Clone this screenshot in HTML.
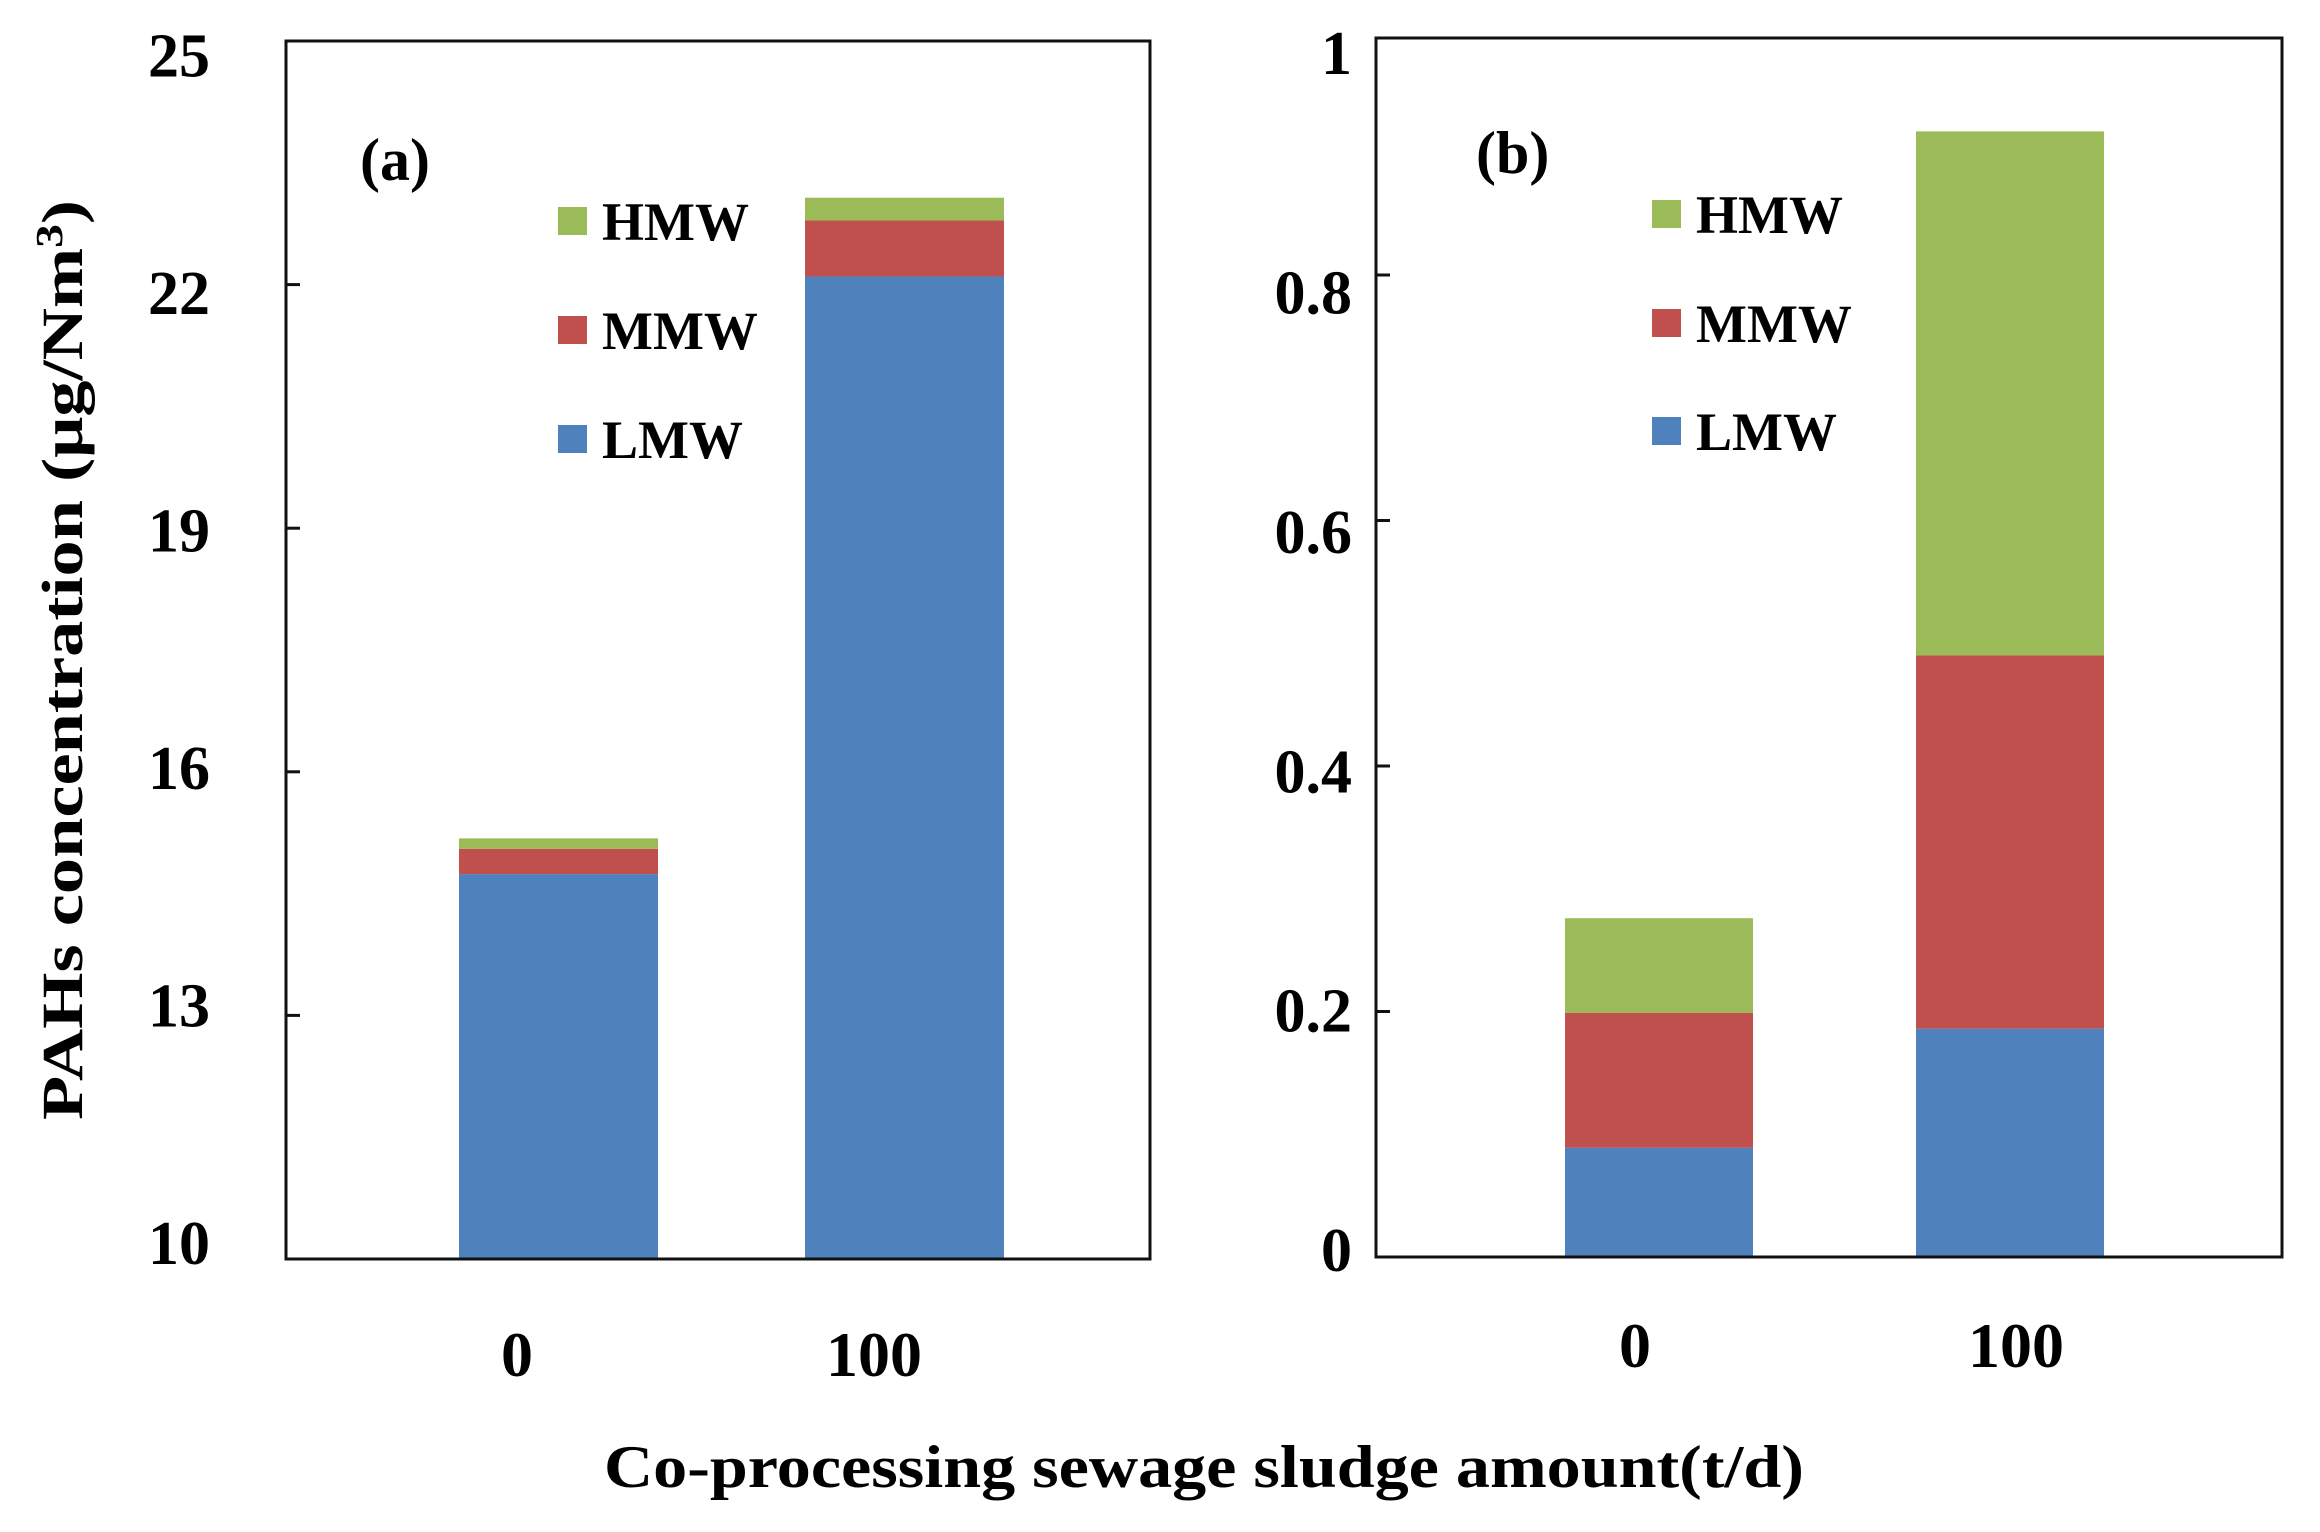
<!DOCTYPE html>
<html><head><meta charset="utf-8">
<style>
html,body{margin:0;padding:0;background:#fff;}
svg{display:block;}
text{font-family:"Liberation Serif",serif;font-weight:bold;fill:#000;}
</style></head>
<body>
<svg id="fig" width="2320" height="1532" viewBox="0 0 2320 1532"></svg>
<script>
// ---- data ----
const categories = ["0", "100"];
const seriesNames = ["LMW", "MMW", "HMW"];
const seriesColors = ["#4F81BD", "#C0504D", "#9BBB59"];
// panel (a)
const aLMW = [14.74, 22.1];
const aMMW = [0.31, 0.69];
const aHMW = [0.13, 0.28];
const aTicks = [10, 13, 16, 19, 22, 25];
const aTickLabels = ["10", "13", "16", "19", "22", "25"];
// panel (b)
const bLMW = [0.089, 0.186];
const bMMW = [0.11, 0.304];
const bHMW = [0.077, 0.427];
const bTicks = [0, 0.2, 0.4, 0.6, 0.8, 1];
const bTickLabels = ["0", "0.2", "0.4", "0.6", "0.8", "1"];

const NS = "http://www.w3.org/2000/svg";
const svg = document.getElementById("fig");
function mk(tag, attrs, parent) {
  const e = document.createElementNS(NS, tag);
  for (const k in attrs) e.setAttribute(k, attrs[k]);
  (parent || svg).appendChild(e);
  return e;
}

function panel(cfg) {
  const g = mk("g", {});
  
  
  const yScale = v => cfg.y0 - (Math.max(v, cfg.vmin) - cfg.vmin) * cfg.pxPerUnit;
  const series = [cfg.lmw, cfg.mmw, cfg.hmw];
  categories.forEach((c, i) => {
    let base = 0;
    series.forEach((s, j) => {
      const top = base + s[i];
      const yTop = yScale(top), yBot = yScale(base);
      const r = mk("rect", {x: cfg.barX[i], y: yTop, width: cfg.barW, height: Math.max(0, yBot - yTop), fill: seriesColors[j]}, g);
      
      
      base = top;
    });
  });
  const f = mk("rect", {x: cfg.left, y: cfg.top, width: cfg.right - cfg.left, height: cfg.y0 - cfg.top, fill: "none", stroke: "#111", "stroke-width": 3}, g);
  
  
  cfg.ticks.forEach((t, i) => {
    const y = yScale(t);
    if (y >= cfg.top) {
      const tl = mk("line", {x1: cfg.left, x2: cfg.left + 14, y1: y, y2: y, stroke: "#111", "stroke-width": 3}, g);
      
      
    }
    const cy = cfg.labBottom + (y - cfg.y0) * 0.975;
    const lb = mk("text", {x: cfg.labelRight, y: cy + 22, "text-anchor": "end", "font-size": 62}, g);
    lb.textContent = cfg.tickLabels[i];
    
    
  });
  categories.forEach((c, i) => {
    const t = mk("text", {x: cfg.xLabX[i], y: cfg.xLabelY, "text-anchor": "middle", "font-size": 64}, g);
    t.textContent = c;
    
    
  });
  const pl = mk("text", {x: cfg.plX, y: cfg.plY, "font-size": 60}, g);
  pl.textContent = cfg.plText;
  
  
  const order = [2, 1, 0];
  order.forEach((j, k) => {
    const cy = cfg.legY[k];
    const lg = mk("g", {}, g);
    
    
    mk("rect", {x: cfg.legX, y: cy - 14, width: 29, height: 28, fill: seriesColors[j]}, lg);
    const tx = mk("text", {x: cfg.legX + 44, y: cy + 19, "font-size": 54}, lg);
    tx.textContent = seriesNames[j];
  });
}

panel({name: "panel-a", left: 286, right: 1150, top: 41, y0: 1259, vmin: 10, pxPerUnit: (1259 - 41) / 15,
  lmw: aLMW, mmw: aMMW, hmw: aHMW, ticks: aTicks, tickLabels: aTickLabels,
  barX: [459, 805], barW: 199, labelRight: 210, xLabelY: 1376, xLabX: [517, 874], labBottom: 1242,
  plX: 360, plY: 180, plText: "(a)", legX: 558, legY: [221, 330, 439]});

panel({name: "panel-b", left: 1376, right: 2282, top: 38, y0: 1257, vmin: 0, pxPerUnit: (1257 - 275) / 0.8,
  lmw: bLMW, mmw: bMMW, hmw: bHMW, ticks: bTicks, tickLabels: bTickLabels,
  barX: [1565, 1916], barW: 188, labelRight: 1352, xLabelY: 1367, xLabX: [1635, 2016], labBottom: 1249,
  plX: 1476, plY: 173, plText: "(b)", legX: 1652, legY: [214, 323, 431]});

const xt = mk("text", {x: 1204, y: 1487, "text-anchor": "middle", "font-size": 60, textLength: 1200, lengthAdjust: "spacingAndGlyphs"});
xt.textContent = "Co-processing sewage sludge amount(t/d)";



const yt = mk("text", {x: 0, y: 0, "text-anchor": "middle", "font-size": 58, textLength: 920, lengthAdjust: "spacingAndGlyphs", transform: "translate(82,660) rotate(-90)"});
yt.innerHTML = 'PAHs  concentration (μg/Nm<tspan dy="-20" font-size="38">3</tspan><tspan dy="20">)</tspan>';


</script>
</body></html>
